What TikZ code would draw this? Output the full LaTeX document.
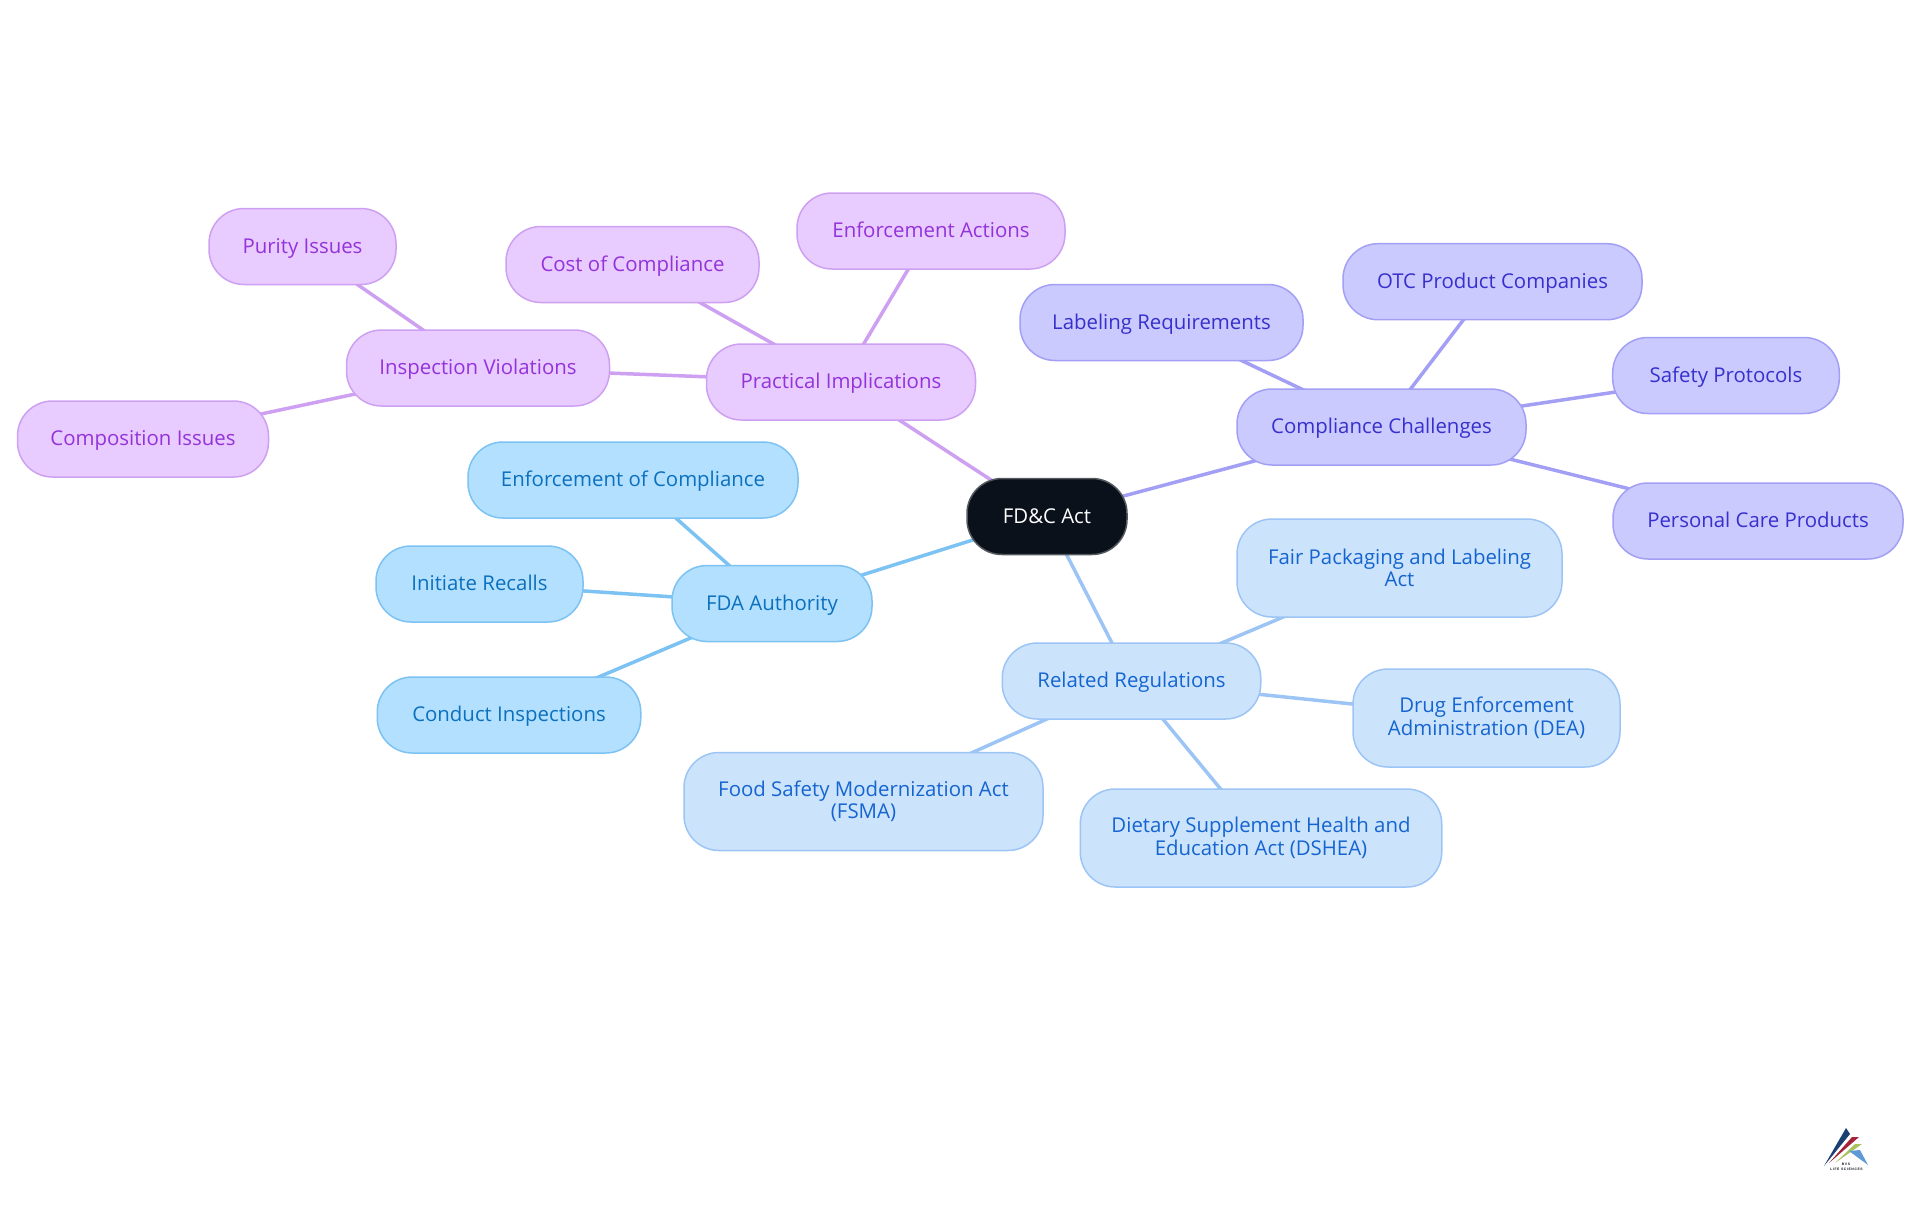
\documentclass[tikz,border=0pt]{standalone}
\usepackage{fontspec}
\setmainfont{Open Sans}
\newfontfamily\logofont[LetterSpace=18]{Liberation Sans}
\usetikzlibrary{backgrounds}

\definecolor{rootfill}{HTML}{0B111A}
\definecolor{purplefill}{HTML}{E8CBFF}
\definecolor{purpleline}{HTML}{CDA0F2}
\definecolor{purpletext}{HTML}{9333D9}
\definecolor{indigofill}{HTML}{CACAFF}
\definecolor{indigoline}{HTML}{A39FF5}
\definecolor{indigotext}{HTML}{3730CC}
\definecolor{skyfill}{HTML}{B3E0FF}
\definecolor{skyline}{HTML}{7CC2F2}
\definecolor{skytext}{HTML}{0B70BD}
\definecolor{palefill}{HTML}{CCE3FC}
\definecolor{paleline}{HTML}{9CC5F5}
\definecolor{paletext}{HTML}{1565D0}
\definecolor{logonavy}{HTML}{1C3F73}
\definecolor{logored}{HTML}{A3233B}
\definecolor{logogreen}{HTML}{A9C25A}
\definecolor{logoblue}{HTML}{5E9BD6}

\tikzset{
  topic/.style={draw, line width=1.5pt, rounded corners=35pt, inner sep=0pt, align=center,
    minimum height=76pt, text height=17pt, text depth=4pt, font=\fontsize{20.4}{22.5}\selectfont},
  tall/.style={minimum height=98pt, text height=, text depth=},
  rootbox/.style={topic, fill=rootfill, draw=rootfill!70!white, text=white},
  purplebox/.style={topic, fill=purplefill, draw=purpleline, text=purpletext},
  indigobox/.style={topic, fill=indigofill, draw=indigoline, text=indigotext},
  skybox/.style={topic, fill=skyfill, draw=skyline, text=skytext},
  palebox/.style={topic, fill=palefill, draw=paleline, text=paletext},
  branch/.style={line width=3.5pt},
  logotext/.style={inner sep=0pt, text=rootfill, font=\logofont\bfseries\fontsize{3.4}{3.4}\selectfont},
}

\begin{document}
\begin{tikzpicture}[x=1pt, y=1pt]
  \useasboundingbox (0,0) rectangle (1920,-1215);
  \node[rootbox, minimum width=160pt] (act) at (1047,-516.5) {FD\&C Act};
  % purple branch
  \node[purplebox, minimum width=269pt] (practical) at (841,-382) {Practical Implications};
  \node[purplebox, minimum width=268pt] (actions) at (931,-231) {Enforcement Actions};
  \node[purplebox, minimum width=253pt] (cost) at (632.5,-264.5) {Cost of Compliance};
  \node[purplebox, minimum width=263pt] (violations) at (478,-368) {Inspection Violations};
  \node[purplebox, minimum width=187pt] (purity) at (302.5,-246.5) {Purity Issues};
  \node[purplebox, minimum width=251pt] (composition) at (143,-439) {Composition Issues};
  % sky branch
  \node[skybox, minimum width=200pt] (fda) at (772,-603.5) {FDA Authority};
  \node[skybox, minimum width=330pt] (enforce) at (633,-480) {Enforcement of Compliance};
  \node[skybox, minimum width=207pt] (recalls) at (479.5,-584) {Initiate Recalls};
  \node[skybox, minimum width=263.5pt] (inspect) at (509,-715) {Conduct Inspections};
  % pale branch
  \node[palebox, minimum width=258.5pt] (related) at (1131.5,-681) {Related Regulations};
  \node[palebox, tall, minimum width=325pt] (fair) at (1399.5,-568) {Fair Packaging and Labeling\\Act};
  \node[palebox, tall, minimum width=267pt] (drug) at (1486.5,-718) {Drug Enforcement\\Administration (DEA)};
  \node[palebox, tall, minimum width=359pt] (food) at (863.5,-801.5) {Food Safety Modernization Act\\(FSMA)};
  \node[palebox, tall, minimum width=361.5pt] (dietary) at (1261,-838) {Dietary Supplement Health and\\Education Act (DSHEA)};
  % indigo branch
  \node[indigobox, minimum width=289pt] (challenges) at (1381.5,-427) {Compliance Challenges};
  \node[indigobox, minimum width=283pt] (labeling) at (1161.5,-322.5) {Labeling Requirements};
  \node[indigobox, minimum width=299pt] (otc) at (1492.5,-281.7) {OTC Product Companies};
  \node[indigobox, minimum width=226.6pt] (safety) at (1726,-375.5) {Safety Protocols};
  \node[indigobox, minimum width=290pt] (personal) at (1758,-521) {Personal Care Products};

  \begin{pgfonlayer}{background}
    \foreach \a/\b in {act/practical, practical/actions, practical/cost, practical/violations, violations/purity, violations/composition}
      \draw[branch, purpleline] (\a.center) -- (\b.center);
    \foreach \a/\b in {act/fda, fda/enforce, fda/recalls, fda/inspect}
      \draw[branch, skyline] (\a.center) -- (\b.center);
    \foreach \a/\b in {act/related, related/fair, related/drug, related/food, related/dietary}
      \draw[branch, paleline] (\a.center) -- (\b.center);
    \foreach \a/\b in {act/challenges, challenges/labeling, challenges/otc, challenges/safety, challenges/personal}
      \draw[branch, indigoline] (\a.center) -- (\b.center);
  \end{pgfonlayer}

  % logo
  \fill[logonavy] (1824,-1166) -- (1846,-1128) -- (1850,-1134) -- cycle;
  \fill[logored] (1829,-1163) -- (1852,-1137) -- (1859,-1137) -- cycle;
  \fill[logogreen] (1835,-1163) -- (1855,-1144) -- (1862,-1144) -- cycle;
  \fill[logoblue] (1849,-1151) -- (1860,-1150) -- (1868,-1165) -- cycle;
  \node[logotext] (bvs) at (1846,-1164.5) {BVS};
  \node[logotext] (life) at (1846.5,-1169) {LIFE SCIENCES};
\end{tikzpicture}
\end{document}
